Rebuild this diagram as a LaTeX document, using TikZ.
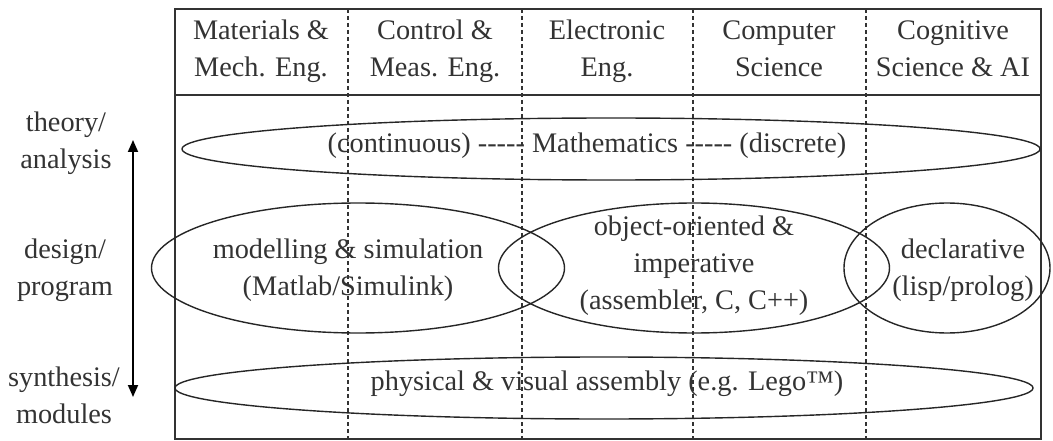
\documentclass[tikz,border=0pt]{standalone}
\usepackage{fontspec}
\setmainfont{Liberation Serif}
\usetikzlibrary{shapes.geometric,arrows.meta}
\begin{document}
\begin{tikzpicture}[x=1pt,y=-1pt,
  txt/.style={inner sep=0pt,align=center,text=black!80,font=\fontsize{28.3}{37}\selectfont},
  ell/.style={draw=black!85,line width=1.4pt,ellipse,inner sep=0pt},
  frame/.style={draw=black!80,line width=1.8pt},
  sep/.style={draw=black!80,line width=1.3pt,dash pattern=on 4pt off 3pt},
  axis/.style={draw=black,line width=1.8pt,{Triangle[length=12pt,width=10pt]}-{Triangle[length=12pt,width=10pt]}}]
\useasboundingbox (0,0) rectangle (1053,441);
% frame
\coordinate (tl) at (175,9);
\coordinate (br) at (1041,439);
\coordinate (hl) at (175,95);
\coordinate (hr) at (1041,95);
\draw[frame] (tl) rectangle (br);
\draw[frame] (hl) -- (hr);
% column separators
\foreach \x/\n in {348/a,522/b,693/c,866/d}{
  \coordinate (s\n t) at (\x,9);
  \coordinate (s\n b) at (\x,439);
  \draw[sep] (s\n t) -- (s\n b);
}
% headers
\node[txt] (h1) at (261,51) {\strut Materials \&\\\strut Mech. Eng.};
\node[txt] (h2) at (435,51) {\strut Control \&\\\strut Meas. Eng.};
\node[txt] (h3) at (607,51) {\strut Electronic\\\strut Eng.};
\node[txt] (h4) at (779,51) {\strut Computer\\\strut Science};
\node[txt] (h5) at (953,51) {\strut Cognitive\\\strut Science \& AI};
% row labels
\node[txt] (r1) at (66,143) {\strut theory/\\\strut analysis};
\node[txt] (r2) at (65,270) {\strut design/\\\strut program};
\node[txt] (r3) at (64,398) {\strut synthesis/\\\strut modules};
\coordinate (at) at (133,140);
\coordinate (ab) at (133,397);
\draw[axis] (at) -- (ab);
% ellipses
\node[ell,minimum width=858pt,minimum height=62pt] (e1) at (611,149) {};
\node[ell,minimum width=413pt,minimum height=130pt] (e2) at (358,268) {};
\node[ell,minimum width=391pt,minimum height=130pt] (e3) at (694,268) {};
\node[ell,minimum width=206pt,minimum height=130pt] (e4) at (947,268) {};
\node[ell,minimum width=858pt,minimum height=62pt] (e5) at (604,388) {};
% ellipse texts
\node[txt] (t1) at (587,145) {\strut(continuous) -{}-{}-{}-{}- Mathematics -{}-{}-{}-{}- (discrete)};
\node[txt] (t2) at (348,270) {\strut modelling \& simulation\\\strut(Matlab/Simulink)};
\node[txt] (t3) at (694,265) {\strut object-oriented \&\\\strut imperative\\\strut(assembler, C, C++)};
\node[txt] (t4) at (963,270) {\strut declarative\\\strut(lisp/prolog)};
\node[txt] (t5) at (607,383) {\strut physical \& visual assembly (e.g. Lego™)};
\end{tikzpicture}
\end{document}
